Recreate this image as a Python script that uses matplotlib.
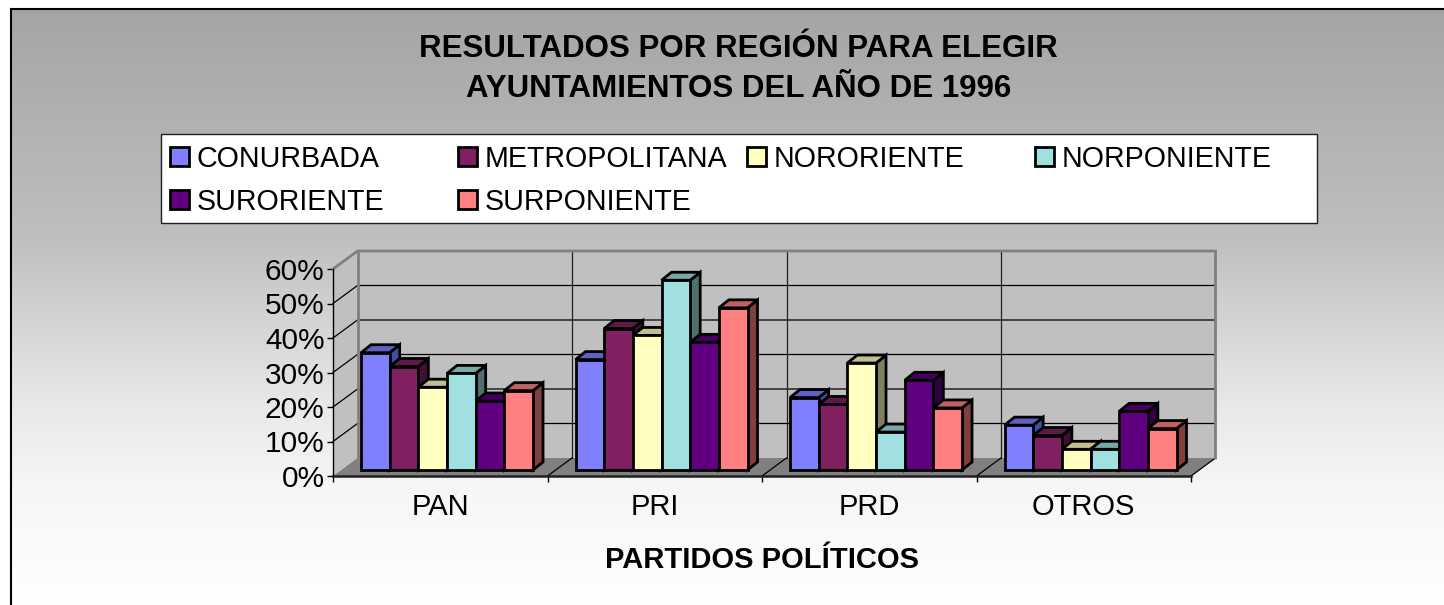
import numpy as np
import matplotlib
matplotlib.use("Agg")
import matplotlib.pyplot as plt
from matplotlib.colors import LinearSegmentedColormap
from matplotlib.patches import Polygon, Rectangle

W, H = 1444, 605

title_lines = ["RESULTADOS POR REGIÓN PARA ELEGIR", "AYUNTAMIENTOS DEL AÑO DE 1996"]
x_title = "PARTIDOS POLÍTICOS"
parties = ["PAN", "PRI", "PRD", "OTROS"]
regions = ["CONURBADA", "METROPOLITANA", "NORORIENTE", "NORPONIENTE", "SURORIENTE", "SURPONIENTE"]
y_ticks = [0, 10, 20, 30, 40, 50, 60]

conurbada = [34, 32, 21, 13]
metropolitana = [30, 41, 19, 10]
nororiente = [24, 39, 31, 6]
norponiente = [28, 55, 11, 6]
suroriente = [20, 37, 26, 17]
surponiente = [23, 47, 18, 12]
series = [conurbada, metropolitana, nororiente, norponiente, suroriente, surponiente]

colors = ["#8080FF", "#802060", "#FFFFC0", "#A0E0E0", "#600080", "#FF8080"]
top_colors = ["#6060C0", "#601848", "#C0C090", "#78A8A8", "#480060", "#C06060"]
side_colors = ["#404F9F", "#401030", "#808060", "#507070", "#300040", "#804040"]

plt.rcParams["font.family"] = ["Liberation Sans", "DejaVu Sans"]

fig = plt.figure(figsize=(W / 100, H / 100), dpi=100, facecolor="white")


# pixel box of the image -> figure fraction
def figbox(x0, y0, x1, y1):
    return [x0 / W, 1 - y1 / H, (x1 - x0) / W, (y1 - y0) / H]


# gradient background with the black frame on the left and top
bg = fig.add_axes(figbox(11, 9, W + 2, H + 2), zorder=0)
grad = np.linspace(0, 1, 256).reshape(-1, 1)
cmap = LinearSegmentedColormap.from_list(
    "g", [(0, "#A5A5A5"), (0.37, "#BEBEBE"), (0.66, "#E8E8E8"), (0.8, "#F6F6F6"), (1, "#FFFFFF")])
bg.imshow(grad, aspect="auto", cmap=cmap, extent=[0, 1, 0, 1])
bg.set_xticks([])
bg.set_yticks([])
for s in ["right", "bottom"]:
    bg.spines[s].set_visible(False)
for s in ["left", "top"]:
    bg.spines[s].set_linewidth(1.5)
    bg.spines[s].set_color("black")

# main axes = front plane of the 3d box
ax = fig.add_axes(figbox(333, 269, 1191, 476), zorder=1)
ax.set_xlim(0, 4)
ax.set_ylim(0, 60)
ax.patch.set_visible(False)
for s in ax.spines.values():
    s.set_visible(False)

px_x = 4 / 858.0
px_y = 60 / 207.0
dx = 24.5 * px_x
dy = 18 * px_y


def poly(pts, fc, ec="none", lw=0.0, z=2):
    ax.add_patch(Polygon(pts, closed=True, facecolor=fc, edgecolor=ec, linewidth=lw,
                         zorder=z, clip_on=False, joinstyle="miter"))


# walls and floor
poly([(0, 0), (dx, dy), (dx, 60 + dy), (0, 60)], "#C0C0C0")
poly([(dx, dy), (4 + dx, dy), (4 + dx, 60 + dy), (dx, 60 + dy)], "#C0C0C0")
poly([(0, 0), (4, 0), (4 + dx, dy), (dx, dy)], "#808080")

# grid
for t in y_ticks[1:-1]:
    ax.plot([0, dx, 4 + dx], [t, t + dy, t + dy], color="#000000", lw=0.9, zorder=3, clip_on=False)
for i in range(1, 4):
    ax.plot([i + dx, i + dx], [dy, 60 + dy], color="#202020", lw=0.9, zorder=3, clip_on=False)
    ax.plot([i, i + dx], [0, dy], color="black", lw=0.9, zorder=3, clip_on=False)
ax.plot([4, 4 + dx], [0, dy], color="black", lw=0.9, zorder=3, clip_on=False)

# grey wall outline
ax.plot([0, dx, 4 + dx, 4 + dx], [60, 60 + dy, 60 + dy, dy], color="#808080", lw=2.0,
        zorder=3, clip_on=False, solid_joinstyle="miter")
ax.plot([dx, dx], [dy, 60 + dy], color="#808080", lw=2.0, zorder=3, clip_on=False)

# bars
bar_w = 28.67 * px_x
gap = 28.0 * px_x
fy = 6 * px_y
bdx = 10 * px_x
bdy = 8 * px_y
z = 4
for i in range(len(parties)):
    for j, vals in enumerate(series):
        x0 = i + gap + j * bar_w
        x1 = x0 + bar_w
        y0 = fy
        y1 = fy + vals[i]
        poly([(x1, y0), (x1 + bdx, y0 + bdy), (x1 + bdx, y1 + bdy), (x1, y1)],
             side_colors[j], "black", 2.0, z)
        poly([(x0, y1), (x1, y1), (x1 + bdx, y1 + bdy), (x0 + bdx, y1 + bdy)],
             top_colors[j], "black", 2.0, z)
        poly([(x0, y0), (x1, y0), (x1, y1), (x0, y1)], colors[j], "black", 2.0, z)
        z += 1

# axes lines and labels
ax.plot([0, 4], [0, 0], color="#202020", lw=1.8, zorder=40, clip_on=False)
ax.plot([0, 0], [0, 60], color="black", lw=1.0, zorder=40, clip_on=False)
ax.set_yticks(y_ticks)
ax.set_yticklabels([f"{t}%" for t in y_ticks], fontsize=21.5)
ax.set_xticks(range(5))
ax.set_xticklabels([])
ax.tick_params(axis="both", length=4, width=1, color="black", pad=2)
for i, p in enumerate(parties):
    fig.text((333 + 214.5 * i + 107) / W, 1 - 507 / H, p, ha="center", va="center",
             fontsize=21, zorder=5)

# titles
fig.text(738 / W, 1 - 49 / H, title_lines[0], ha="center", va="center", fontsize=22.5,
         fontweight="bold", zorder=5)
fig.text(739 / W, 1 - 89 / H, title_lines[1], ha="center", va="center", fontsize=22.5,
         fontweight="bold", zorder=5)
fig.text(762 / W, 1 - 560 / H, x_title, ha="center", va="center", fontsize=21,
         fontweight="bold", zorder=5)

# legend box, written out because the columns are not even in the original
fig.add_artist(Rectangle((160.5 / W, 1 - 223.5 / H), 1156 / W, 89.5 / H, transform=fig.transFigure,
                         facecolor="white", edgecolor="#202020", linewidth=1.0, zorder=5))
legend_x = [170, 458, 747, 1035, 170, 458]
legend_y = [157, 157, 157, 157, 200, 200]
for name, c, lx, ly in zip(regions, colors, legend_x, legend_y):
    fig.add_artist(Rectangle((lx / W, 1 - (ly + 9) / H), 19 / W, 19 / H, transform=fig.transFigure,
                             facecolor=c, edgecolor="black", linewidth=2.0, zorder=6))
    fig.text((lx + 27) / W, 1 - (ly + 2) / H, name, ha="left", va="center", fontsize=20.6, zorder=6)

fig.savefig("out.png", dpi=100)
